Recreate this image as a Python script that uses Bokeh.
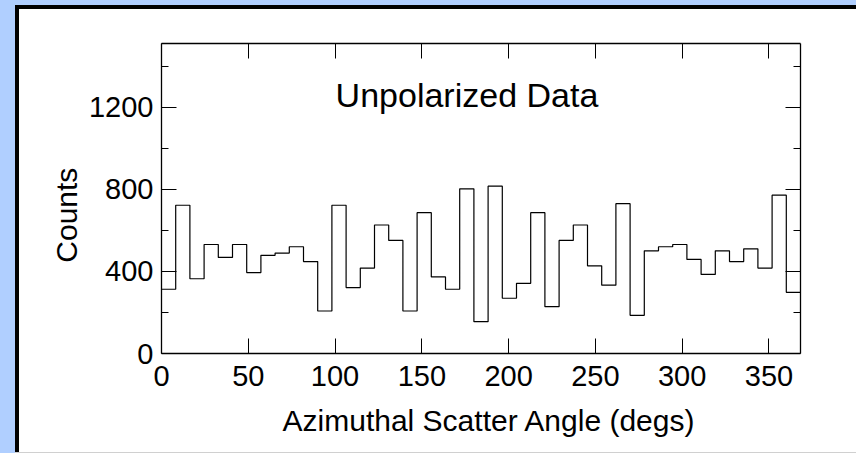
from bokeh.plotting import figure
from bokeh.models import Range1d, LinearAxis, FixedTicker, Label, CustomLabelingPolicy
from bokeh.embed import file_html
from bokeh.resources import INLINE

# ---- data ----
n_bins = 45
bin_width = 360.0 / 44
counts = [313, 722, 364, 531, 468, 531, 394, 478, 489, 520,
          448, 207, 722, 321, 416, 626, 551, 207, 686, 373,
          313, 802, 155, 815, 269, 342, 686, 228, 551, 626,
          427, 333, 730, 186, 500, 520, 531, 458, 385, 500,
          448, 510, 416, 771, 298]
x_ticks = [0, 50, 100, 150, 200, 250, 300, 350]
y_ticks = [0, 400, 800, 1200]
y_minor = [200, 600, 1000, 1400]
title_text = "Unpolarized Data"
x_label = "Azimuthal Scatter Angle (degs)"
y_label = "Counts"

edges = [i * bin_width for i in range(n_bins + 1)]
step_y = counts + [counts[-1]]

FONT = "Liberation Sans"
BLUE = "#B0CFFF"

p = figure(width=856, height=453, output_backend="svg", toolbar_location=None,
           x_range=Range1d(0, n_bins * bin_width), y_range=Range1d(0, 1510),
           x_axis_location=None, y_axis_location=None,
           min_border_left=161, min_border_right=56, min_border_top=43, min_border_bottom=100,
           background_fill_color="white", border_fill_color=None)
p.outline_line_color = None
p.xgrid.visible = False
p.ygrid.visible = False

p.step(edges, step_y, mode="after", line_color="black", line_width=1.2)

no_labels = CustomLabelingPolicy(code="""
for (const i of Array.from(indices)) { indices.unset(i) }
return indices
""")

def style(ax, show_labels=True):
    ax.axis_line_color = "black"
    ax.axis_line_width = 1.3
    ax.major_tick_line_color = "black"
    ax.minor_tick_line_color = "black"
    ax.major_tick_in = 15
    ax.major_tick_out = 0
    ax.minor_tick_in = 7
    ax.minor_tick_out = 0
    ax.major_label_text_font = FONT
    ax.major_label_text_color = "black"
    ax.major_label_text_font_size = "29px"
    ax.axis_label_text_font = FONT
    ax.axis_label_text_font_style = "normal"
    ax.axis_label_text_color = "black"
    ax.axis_label_text_font_size = "30px"
    if not show_labels:
        ax.major_label_policy = no_labels
        ax.major_label_standoff = 0
        ax.major_label_text_font_size = "1px"

xb = LinearAxis(ticker=FixedTicker(ticks=x_ticks, minor_ticks=[]),
                axis_label="\u00a0\u00a0" + x_label)
style(xb)
xb.major_label_standoff = 12
xb.axis_label_standoff = 15
p.add_layout(xb, "below")

xt = LinearAxis(ticker=FixedTicker(ticks=x_ticks, minor_ticks=[]))
style(xt, False)
p.add_layout(xt, "above")

yl = LinearAxis(ticker=FixedTicker(ticks=y_ticks, minor_ticks=y_minor),
                axis_label=y_label + "\u00a0\u00a0\u00a0\u00a0")
style(yl)
yl.major_label_standoff = 8
yl.axis_label_standoff = 3
p.add_layout(yl, "left")

yr = LinearAxis(ticker=FixedTicker(ticks=y_ticks, minor_ticks=y_minor))
style(yr, False)
p.add_layout(yr, "right")

p.add_layout(Label(x=176, y=1260, text=title_text, text_align="center",
                   text_baseline="alphabetic", text_font=FONT, text_font_size="34px",
                   text_color="black"))

p.styles = {
    "background": (
        "linear-gradient(#ffffff,#ffffff) 19px 9px / 837px 443px no-repeat, "
        "linear-gradient(#d0d0d0,#d0d0d0) 15px 452px / 841px 1px no-repeat, "
        "linear-gradient(#000000,#000000) 15px 5px / 841px 447px no-repeat, "
        + BLUE
    )
}

open("out.html", "w").write(file_html(p, INLINE))
